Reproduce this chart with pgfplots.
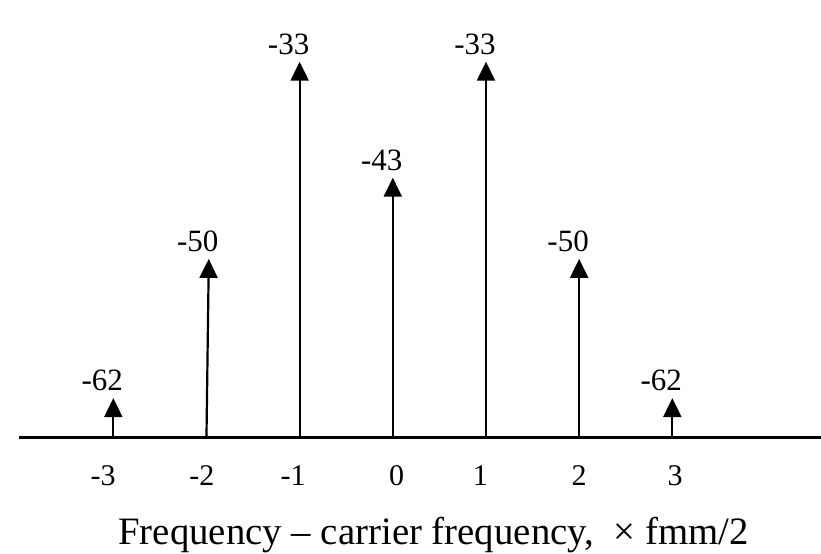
\documentclass[border=0pt]{standalone}
\usepackage{fontspec}
\setmainfont{Liberation Serif}
\usepackage{pgfplots}
\pgfplotsset{compat=1.18}
\usetikzlibrary{arrows.meta}

% level (dB) at which the frequency axis is drawn
\def\baselevel{-65.4}

\begin{document}
\begin{tikzpicture}
\useasboundingbox (0,0) rectangle (821bp,554bp);
\begin{axis}[
  at={(19.3bp,116.5bp)}, anchor=south west,
  scale only axis,
  width=801.7bp, height=437.5bp,
  xmin=-4.009, xmax=4.596,
  ymin=\baselevel, ymax=-27.68,
  axis y line=none,
  axis x line=bottom,
  x axis line style={-, line width=2.6bp},
  major tick length=0pt,
  xtick={-3.11,-2.05,-1.07,0.04,0.94,2.0,3.03},
  xticklabels={-3,-2,-1,0,1,2,3},
  xticklabel style={font=\fontsize{30bp}{36bp}\selectfont, anchor=center, yshift=-38.5bp, inner sep=0pt},
  clip=false,
]
% spectral lines, drawn up from the frequency axis to their level
\addplot[black, line width=2.2bp, -{Triangle[width=18bp,length=19bp]},
  quiver={u=\thisrow{dx}, v=\thisrow{db}-\baselevel}]
  table[x=f, y expr=\baselevel] {
  f   db   dx
  -3  -62  0
  -2  -50  0.025
  -1  -33  0
   0  -43  0
   1  -33  0
   2  -50  0
   3  -62  0
};
% level labels above each line
\addplot[draw=none, mark=none,
  nodes near coords, point meta=explicit symbolic,
  every node near coord/.style={font=\fontsize{31bp}{36bp}\selectfont, anchor=south, inner sep=0pt, yshift=7bp, xshift=-11bp}]
  table[x=f, y=db, meta=lab] {
  f      db   lab
  -3     -62  -62
  -1.975 -50  -50
  -1     -33  -33
   0     -43  -43
   1     -33  -33
   2     -50  -50
   3     -62  -62
};
\end{axis}
\node[anchor=base, inner sep=0pt, font=\fontsize{38.8bp}{46bp}\selectfont] at (433.5bp,10bp)
  {Frequency – carrier frequency,\hspace{0.25em} × fmm/2};
\end{tikzpicture}
\end{document}
